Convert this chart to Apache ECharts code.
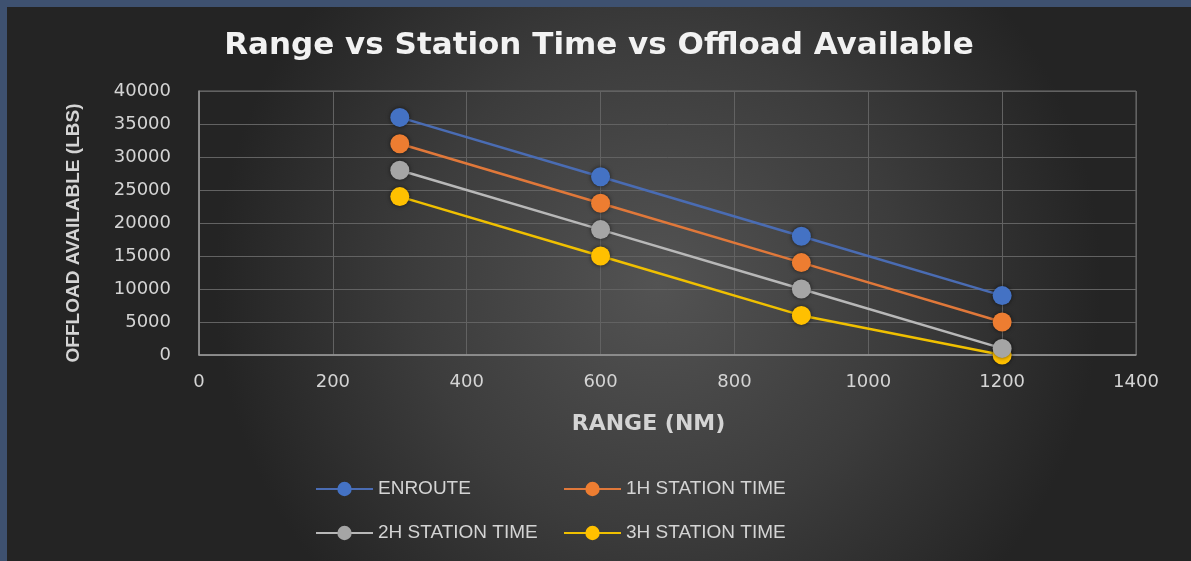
<!DOCTYPE html>
<html>
<head>
<meta charset="utf-8">
<title>Range vs Station Time vs Offload Available</title>
<script src="https://cdn.jsdelivr.net/npm/echarts@6/dist/echarts.min.js"></script>
<style>
  html, body { margin: 0; padding: 0; width: 1191px; height: 561px; overflow: hidden; background: #3e5170; }
  #chart { position: absolute; left: 7px; top: 7px; width: 1184px; height: 554px; }
</style>
</head>
<body>
<div id="chart"></div>
<script>
// Range flown (NM) for each sortie profile
const ranges = [300, 600, 900, 1200];

// Offload available (LBS) by station time
const enroute   = [36000, 27000, 18000, 9000];
const station1h = [32000, 23000, 14000, 5000];
const station2h = [28000, 19000, 10000, 1000];
const station3h = [24000, 15000, 6000, 0];

const seriesNames = ['ENROUTE', '1H STATION TIME', '2H STATION TIME', '3H STATION TIME'];
const seriesValues = [enroute, station1h, station2h, station3h];
const seriesColors = ['#4472c4', '#ed7d31', '#a5a5a5', '#ffc000'];
const lineColors   = ['#4a6cb3', '#e0783a', '#b8b8b8', '#f0c000'];

const chart = echarts.init(document.getElementById('chart'));

const labelColor = '#d4d4d4';

const series = seriesNames.map((name, i) => ({
  name: name,
  type: 'line',
  data: ranges.map((r, k) => [r, seriesValues[i][k]]),
  symbol: 'circle',
  symbolSize: 19,
  lineStyle: { color: lineColors[i], width: 2.5 },
  itemStyle: {
    color: seriesColors[i],
    shadowColor: 'rgba(0,0,0,0.6)',
    shadowBlur: 4
  },
  emphasis: { disabled: true },
  animation: false,
  z: 10 - i
}));

const legendText = { color: labelColor, fontFamily: 'Liberation Sans', fontSize: 19, lineHeight: 20 };

// Plain integers on the axes (no thousands separators)
const plain = v => String(v);

chart.setOption({
  backgroundColor: {
    type: 'radial', x: 0.55, y: 0.5, r: 0.8,
    colorStops: [
      { offset: 0, color: '#535353' },
      { offset: 0.55, color: '#3c3c3c' },
      { offset: 1, color: '#242424' }
    ]
  },
  title: {
    text: 'Range vs Station Time vs Offload Available',
    left: 'center',
    top: 18,
    textStyle: { color: '#f2f2f2', fontFamily: 'DejaVu Sans', fontWeight: 'bold', fontSize: 31 }
  },
  legend: [
    {
      data: [seriesNames[0], seriesNames[2]],
      orient: 'vertical', left: 308, top: 472, padding: 0,
      itemWidth: 57, itemHeight: 18, itemGap: 24,
      textStyle: legendText
    },
    {
      data: [seriesNames[1], seriesNames[3]],
      orient: 'vertical', left: 556, top: 472, padding: 0,
      itemWidth: 57, itemHeight: 18, itemGap: 24,
      textStyle: legendText
    }
  ],
  grid: { left: 192, right: 55, top: 84, bottom: 206, show: true, borderColor: '#6e6e6e', borderWidth: 1 },
  xAxis: {
    type: 'value', min: 0, max: 1400, interval: 200,
    name: 'RANGE (NM)', nameLocation: 'middle', nameGap: 58,
    nameTextStyle: { color: labelColor, fontFamily: 'DejaVu Sans', fontWeight: 'bold', fontSize: 22, padding: [0, 38, 0, 0] },
    axisLine: { show: true, lineStyle: { color: '#9a9a9a', width: 1.5 } },
    axisTick: { show: false },
    axisLabel: { color: labelColor, fontFamily: 'DejaVu Sans', fontSize: 18, margin: 18, formatter: plain },
    splitLine: { show: true, lineStyle: { color: '#626262', width: 1 } }
  },
  yAxis: {
    type: 'value', min: 0, max: 40000, interval: 5000,
    name: 'OFFLOAD AVAILABLE (LBS)', nameLocation: 'middle', nameGap: 116,
    nameTextStyle: { color: labelColor, fontFamily: 'Liberation Sans', fontWeight: 'bold', fontSize: 19, padding: [0, 20, 0, 0] },
    axisLine: { show: true, lineStyle: { color: '#9a9a9a', width: 1.5 } },
    axisTick: { show: false },
    axisLabel: { color: labelColor, fontFamily: 'DejaVu Sans', fontSize: 18, margin: 28, formatter: plain },
    splitLine: { show: true, lineStyle: { color: '#626262', width: 1 } }
  },
  series: series
});
</script>
</body>
</html>
